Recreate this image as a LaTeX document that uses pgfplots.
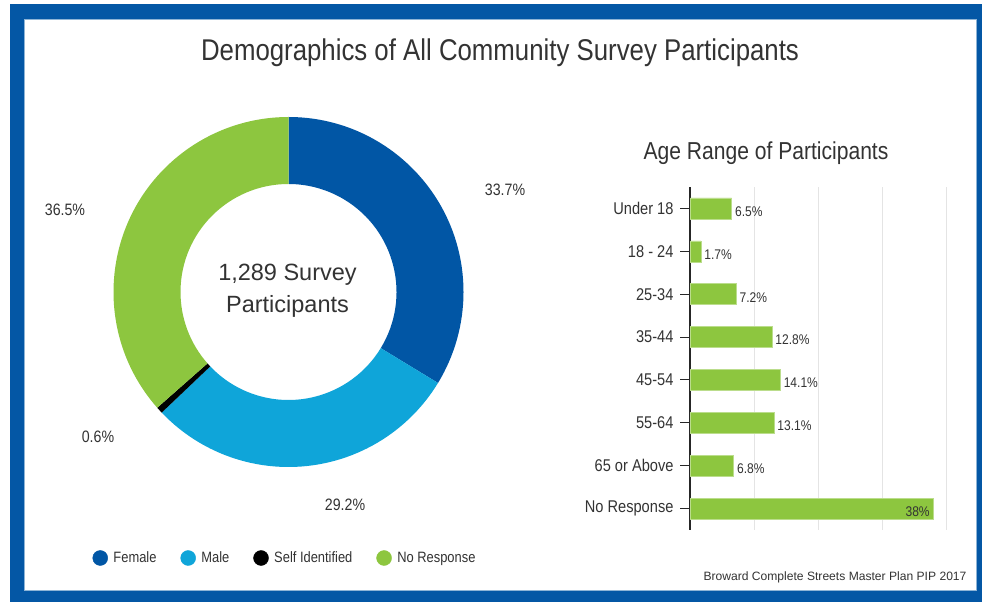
\documentclass[border=0pt]{standalone}
\usepackage{fontspec}
\setmainfont{Liberation Sans}
\newfontfamily\cond[FakeStretch=0.86]{Liberation Sans}
\usepackage{pgfplots}
\usepackage{pgfplotstable}
\pgfplotsset{compat=1.18}

\definecolor{frameblue}{HTML}{0457A5}
\definecolor{femaleblue}{HTML}{0156A5}
\definecolor{maleblue}{HTML}{0FA5D9}
\definecolor{respgreen}{HTML}{8DC63F}
\definecolor{textgray}{HTML}{333333}
\definecolor{gridgray}{HTML}{E4E4E4}

% gender split (percent), drawn clockwise from 12 o'clock
\pgfplotstableread{
group value colour
Female 33.7 femaleblue
Male 29.2 maleblue
Self 0.6 black
NoResponse 36.5 respgreen
}\gender

% age ranges (percent)
\pgfplotstableread{
pos value
0 6.5
1 1.7
2 7.2
3 12.8
4 14.1
5 13.1
6 6.8
}\agetab
\pgfplotstableread{
pos value
7 38
}\agenoresp

\begin{document}
\begin{tikzpicture}[x=1pt,y=1pt]
\useasboundingbox (0,0) rectangle (982,602);
\fill[white] (0,0) rectangle (982,602);
\fill[frameblue] (10,0) rectangle (982,598);
\fill[white] (24,12) rectangle (976,583);
\draw[frameblue!45!white, line width=0.6pt] (24,12) rectangle (976,583);

\node[font=\cond\fontsize{30}{33}\selectfont, text=textgray] at (500,549) {Demographics of All Community Survey Participants};
\node[font=\cond\fontsize{24.5}{28}\selectfont, text=textgray] at (766,449) {Age Range of Participants};
\node[anchor=east, font=\fontsize{12.1}{14}\selectfont, text=textgray] at (970,25) {Broward Complete Streets Master Plan PIP 2017};

% donut
\begin{axis}[
    hide axis, scale only axis,
    width=350pt, height=350pt,
    xmin=-175, xmax=175, ymin=-175, ymax=175,
    at={(288.5pt,310pt)}, anchor=center, clip=false,
    legend columns=-1,
    legend image code/.code={\fill[#1] (0pt,0pt) circle[radius=7.5pt]; \path (11pt,0pt);},
    legend style={at={(0.49,-0.26)}, anchor=center, draw=none, fill=none,
        font=\cond\fontsize{15}{17}\selectfont, text=textgray,
        /tikz/every even column/.append style={column sep=22pt}},
]
\def\astart{90}
\pgfplotsforeachungrouped \i in {0,...,3}{%
    \pgfplotstablegetelem{\i}{value}\of\gender \let\val\pgfplotsretval
    \pgfplotstablegetelem{\i}{colour}\of\gender \let\col\pgfplotsretval
    \pgfmathsetmacro\aend{\astart-3.6*\val}
    \pgfmathsetmacro\xa{175*cos(\astart)}
    \pgfmathsetmacro\ya{175*sin(\astart)}
    \pgfmathsetmacro\xb{108*cos(\aend)}
    \pgfmathsetmacro\yb{108*sin(\aend)}
    \edef\temp{\noexpand\fill[\col] (axis cs:\xa,\ya) arc[start angle=\astart, end angle=\aend, radius=175pt]
        -- (axis cs:\xb,\yb) arc[start angle=\aend, end angle=\astart, radius=108pt] -- cycle;}%
    \temp
    \global\let\astart\aend
}
\addlegendimage{femaleblue}\addlegendentry{Female}
\addlegendimage{maleblue}\addlegendentry{Male}
\addlegendimage{black}\addlegendentry{Self Identified}
\addlegendimage{respgreen}\addlegendentry{No Response}
\node[align=center, font=\fontsize{23.5}{32}\selectfont, text=textgray] at (axis cs:-1,1) {1,289 Survey\\Participants};
\node[font=\cond\fontsize{16.5}{18}\selectfont, text=textgray] at (axis cs:216.5,102) {33.7\%};
\node[font=\cond\fontsize{16.5}{18}\selectfont, text=textgray] at (axis cs:56.5,-213) {29.2\%};
\node[font=\cond\fontsize{16.5}{18}\selectfont, text=textgray] at (axis cs:-190.5,-145) {0.6\%};
\node[font=\cond\fontsize{16.5}{18}\selectfont, text=textgray] at (axis cs:-223.5,82) {36.5\%};
\end{axis}

% age bars
\begin{axis}[
    at={(690pt,72pt)}, anchor=south west,
    scale only axis, width=256pt, height=343pt,
    xmin=0, xmax=40, ymin=-0.5, ymax=7.5, y dir=reverse,
    axis y line*=left, axis x line*=bottom,
    x axis line style={draw=none},
    y axis line style={draw=black!85, line width=1.1pt},
    xtick={10,20,30,40}, xticklabels={}, xtick style={draw=none},
    xmajorgrids, major grid style={gridgray, line width=1pt},
    ytick={0,...,7},
    yticklabels={Under 18, 18 - 24, 25-34, 35-44, 45-54, 55-64, 65 or Above, No Response},
    ytick style={draw=black!85, line width=1pt},
    tick align=outside, major tick length=10pt,
    yticklabel style={font=\cond\fontsize{17}{19}\selectfont, text=textgray, xshift=-3pt},
    /pgf/number format/assume math mode=true,
]
\addplot[xbar, bar width=21pt, bar shift=0pt, fill=respgreen, draw=respgreen!60!white,
    point meta=x,
    nodes near coords={\pgfmathprintnumber{\pgfplotspointmeta}\%},
    nodes near coords style={anchor=west, font=\cond\fontsize{14}{16}\selectfont, text=textgray, yshift=-3pt}]
    table[x=value, y=pos] {\agetab};
\addplot[xbar, bar width=21pt, bar shift=0pt, fill=respgreen, draw=respgreen!60!white,
    point meta=x,
    nodes near coords={\pgfmathprintnumber{\pgfplotspointmeta}\%},
    nodes near coords style={anchor=east, font=\cond\fontsize{14}{16}\selectfont, text=textgray, yshift=-3pt}]
    table[x=value, y=pos] {\agenoresp};
\end{axis}
\end{tikzpicture}
\end{document}
